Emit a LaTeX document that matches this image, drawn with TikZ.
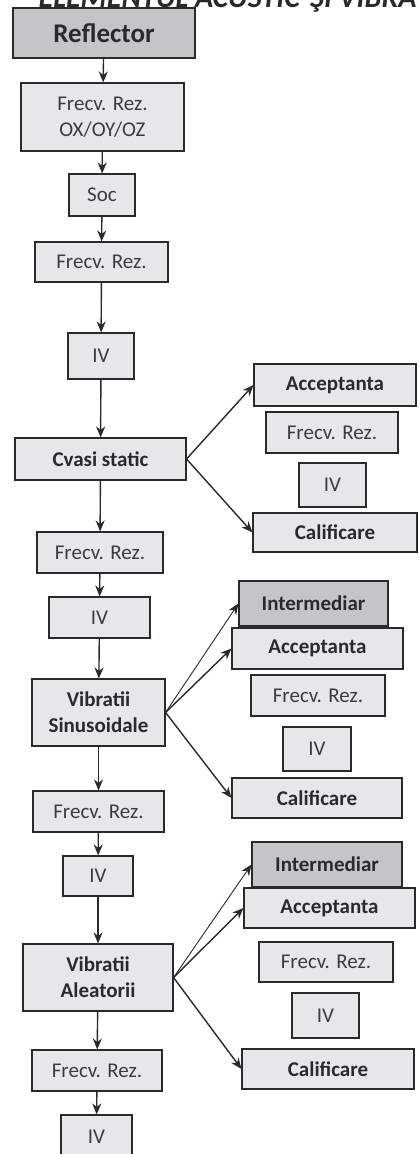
\documentclass[tikz,border=0pt]{standalone}
\usepackage{fontspec}
\setmainfont{Carlito}
\usetikzlibrary{arrows.meta}
\definecolor{ink}{HTML}{2A2A2A}
\definecolor{softink}{HTML}{3C3C3C}
\definecolor{boxfill}{HTML}{E6E7E9}
\definecolor{darkfill}{HTML}{C4C5C7}
\tikzset{
  box/.style={draw=ink, line width=1.1pt, fill=boxfill, text=softink, inner sep=0pt, align=center,
    font=\fontsize{21}{26}\selectfont},
  bbox/.style={box, text=ink, font=\fontsize{21}{26}\selectfont\bfseries},
  dbox/.style={bbox, fill=darkfill},
  conn/.style={draw=ink, line width=1.4pt, -{Stealth[length=11pt,width=9pt]}},
  thinconn/.style={draw=ink, line width=0.9pt, -{Stealth[length=11pt,width=9pt]}},
  titletext/.style={text=ink, inner sep=0pt, font=\fontsize{30}{32}\selectfont\bfseries\itshape}
}
\begin{document}
\begin{tikzpicture}[x=1pt,y=-1pt]
\useasboundingbox (0,0) rectangle (418,1154);
\clip (0,0) rectangle (418,1154);
\fill[white] (0,0) rectangle (418,1154);
% cut-off heading
\node[titletext, anchor=base east] (t1) at (300,7) {ELEMENTUL ACUSTIC};
\node[titletext, anchor=base west] (t2) at (310,7) {ŞI VIBRATII};
% main column
\node[dbox, minimum width=182pt, minimum height=50pt, font=\fontsize{27}{30}\selectfont\bfseries] (r) at (104,33) {Reflector};
\node[box, minimum width=163pt, minimum height=68pt] (f1) at (102.5,117) {Frecv. Rez.\\OX/OY/OZ};
\node[box, minimum width=66pt, minimum height=42pt] (soc) at (102,195) {Soc};
\node[box, minimum width=133pt, minimum height=40pt] (f2) at (101.5,262) {Frecv. Rez.};
\node[box, minimum width=66pt, minimum height=46pt] (iv1) at (101,356) {IV};
\node[bbox, minimum width=171pt, minimum height=42pt] (cs) at (100.5,459) {Cvasi static};
\node[box, minimum width=126pt, minimum height=41pt] (f3) at (100,552.5) {Frecv. Rez.};
\node[box, minimum width=101pt, minimum height=41pt] (iv2) at (99.5,617.5) {IV};
\node[bbox, minimum width=133pt, minimum height=67pt] (vs) at (98.5,712.5) {Vibratii\\Sinusoidale};
\node[box, minimum width=131pt, minimum height=41pt] (f4) at (98.5,811.5) {Frecv. Rez.};
\node[box, minimum width=70pt, minimum height=40pt] (iv3) at (98,876) {IV};
\node[bbox, minimum width=150pt, minimum height=67pt] (va) at (98,977.5) {Vibratii\\Aleatorii};
\node[box, minimum width=130pt, minimum height=41pt] (f5) at (97,1070.5) {Frecv. Rez.};
\node[box, minimum width=71pt, minimum height=43pt] (iv4) at (96.5,1136.5) {IV};
% right group 1
\node[bbox, minimum width=162pt, minimum height=42pt] (a1) at (335,385) {Acceptanta};
\node[box, minimum width=132pt, minimum height=41pt] (f6) at (332,432.5) {Frecv. Rez.};
\node[box, minimum width=67pt, minimum height=44pt] (iv5) at (332.5,485) {IV};
\node[bbox, minimum width=164pt, minimum height=39pt] (c1) at (335,532.5) {Calificare};
% right group 2
\node[dbox, minimum width=149pt, minimum height=45pt] (i1) at (313.5,603.5) {Intermediar};
\node[bbox, minimum width=171pt, minimum height=41pt] (a2) at (317.5,648.5) {Acceptanta};
\node[box, minimum width=134pt, minimum height=41pt] (f7) at (318,695.5) {Frecv. Rez.};
\node[box, minimum width=68pt, minimum height=44pt] (iv6) at (317,749) {IV};
\node[bbox, minimum width=170pt, minimum height=40pt] (c2) at (317,798) {Calificare};
% right group 3
\node[dbox, minimum width=150pt, minimum height=45pt] (i2) at (327,864.5) {Intermediar};
\node[bbox, minimum width=171pt, minimum height=40pt] (a3) at (329.5,908) {Acceptanta};
\node[box, minimum width=134pt, minimum height=40pt] (f8) at (326,962) {Frecv. Rez.};
\node[box, minimum width=67pt, minimum height=45pt] (iv7) at (325.5,1015.5) {IV};
\node[bbox, minimum width=172pt, minimum height=40pt] (c3) at (328,1069) {Calificare};
% vertical connectors
\draw[conn] (r) -- (f1);
\draw[conn] (f1) -- (soc);
\draw[conn] (soc) -- (f2);
\draw[conn] (f2) -- (iv1);
\draw[conn] (iv1) -- (cs);
\draw[conn] (cs) -- (f3);
\draw[conn] (f3) -- (iv2);
\draw[conn] (iv2) -- (vs);
\draw[conn] (vs) -- (f4);
\draw[conn] (f4) -- (iv3);
\draw[conn] (iv3) -- (va);
\draw[conn] (va) -- (f5);
\draw[conn] (f5) -- (iv4);
% branches
\draw[conn] (cs.east) -- (a1.west);
\draw[conn] (cs.east) -- (c1.west);
\draw[thinconn] (vs.east) -- (i1.west);
\draw[conn] (vs.east) -- (a2.west);
\draw[conn] (vs.east) -- (c2.west);
\draw[thinconn] (va.east) -- (i2.west);
\draw[conn] (va.east) -- (a3.west);
\draw[conn] (va.east) -- (c3.west);
\end{tikzpicture}
\end{document}
